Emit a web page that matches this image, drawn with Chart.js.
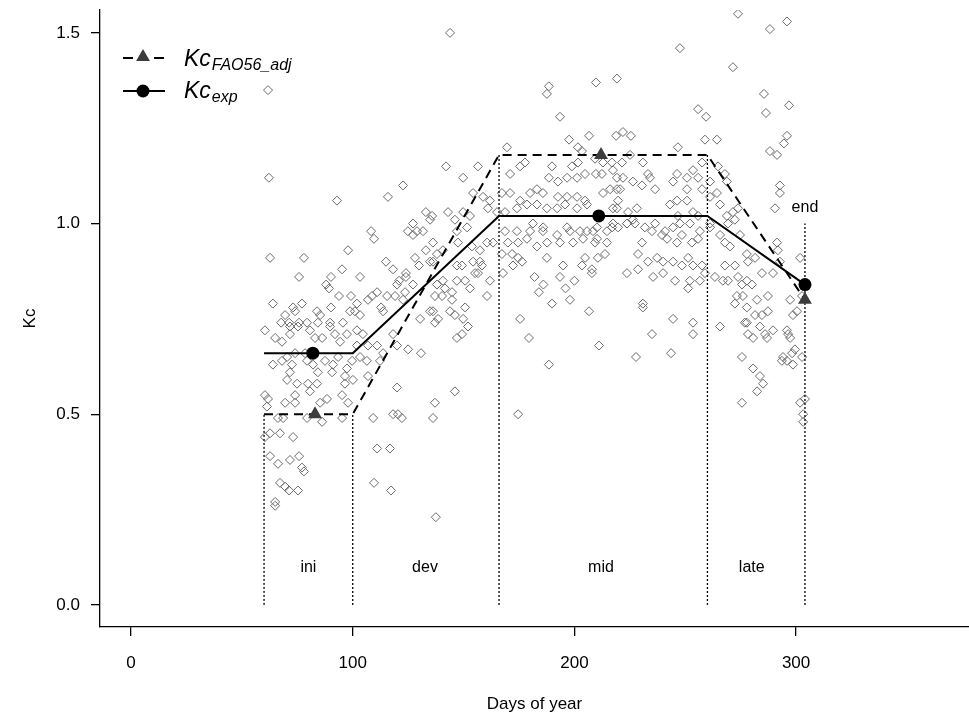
<!DOCTYPE html>
<html>
<head>
<meta charset="utf-8">
<script src="https://cdn.jsdelivr.net/npm/chart.js@4.4.1/dist/chart.umd.min.js"></script>
<style>
html, body { margin: 0; padding: 0; background: #fff; }
canvas { display: block; }
</style>
</head>
<body>
<canvas id="myChart" width="969" height="718"></canvas>
<script>
// crop coefficient curves (day of year, Kc)
const expDays = [60, 82, 100, 166, 211, 260, 304]
const expKc = [0.66, 0.66, 0.66, 1.02, 1.02, 1.02, 0.84]
const expMarkerDays = [82, 211, 304]

const faoDays = [60, 83, 100, 166, 212, 260, 304]
const faoKc = [0.50, 0.50, 0.50, 1.18, 1.18, 1.18, 0.80]
const faoMarkerDays = [83, 212, 304]

// stage limits (dotted verticals)
const stageBoundDays = [60, 100, 166, 260, 304]
const stageBoundTop = [0.50, 0.50, 1.18, 1.18, 1.00]

const stageNames = ['ini', 'dev', 'mid', 'late', 'end']
const stageLabelDays = [80, 132.6, 212, 280, 304]
const stageLabelKc = [0.097, 0.097, 0.097, 0.097, 1.042]

const xTicks = [0, 100, 200, 300]
const yTicks = [0, 0.5, 1.0, 1.5]

// observed daily Kc  [day, Kc]
const observedKc = [
[62.2,1.12],[92.9,1.06],[115.9,1.07],[122.7,1.10],[133,1.03],[134.9,1.01],[127.2,1.00],[108.3,0.98],[109.6,0.96],
[124.9,0.98],[127.2,0.97],[129,0.98],[131.7,0.98],[136.2,0.95],[97.9,0.93],[62.7,0.91],[78,0.91],[133,0.93],
[128.1,0.91],[95.2,0.88],[75.8,0.86],[90.2,0.86],[103.3,0.86],[115,0.90],[118.2,0.88],[124,0.87],[124,0.86],
[129.9,0.89],[134.9,0.90],[88,0.84],[89.3,0.83],[99.2,0.81],[93.8,0.81],[111,0.82],[108.7,0.81],[115.5,0.81],
[120,0.84],[120.9,0.85],[123.6,0.82],[127.2,0.84],[64,0.79],[77.1,0.79],[73.1,0.78],[74,0.77],[69.5,0.76],
[90.2,0.78],[83.9,0.77],[85.3,0.76],[101.9,0.79],[106.9,0.80],[98.8,0.77],[101,0.77],[103.3,0.76],[112.8,0.78],
[113.7,0.77],[119.1,0.81],[122.7,0.80],[67.7,0.74],[71.3,0.74],[75.8,0.74],[79.4,0.74],[84.3,0.74],[89.8,0.74],
[95.6,0.74],[130.4,0.75],[134.9,0.77],[137.1,0.74],
[60.4,0.72],[65,0.70],[68.1,0.69],[71.7,0.73],[75.3,0.73],[71.7,0.71],[80.7,0.72],[83,0.70],[86.2,0.70],
[89.8,0.73],[92,0.71],[94.3,0.69],[97.4,0.71],[101.9,0.72],[104.6,0.71],[101.9,0.68],[106.9,0.68],[111,0.68],
[70.4,0.65],[74,0.66],[78.5,0.66],[64,0.63],[68.1,0.64],[72.6,0.63],[71.7,0.61],[79.4,0.64],[82.1,0.63],
[84.3,0.61],[87.5,0.64],[91.1,0.63],[90.7,0.61],[93.4,0.65],[97.4,0.62],[99.7,0.64],[103.3,0.65],[106.4,0.64],
[112.3,0.64],[113.7,0.66],[70.4,0.59],[74.9,0.58],[79.8,0.58],[83.9,0.58],[96.5,0.60],[96.5,0.58],[100.1,0.59],
[106.9,0.60],[80.7,0.56],[60.4,0.55],[61.8,0.54],[69.5,0.53],[74,0.55],[74,0.53],[85.3,0.53],[88.4,0.54],
[95.2,0.55],[97.9,0.53],[61.3,0.52],[120,0.57],[137.1,0.53],[66.3,0.49],[68.6,0.49],[79.4,0.49],[86.2,0.48],
[95.2,0.49],[109.2,0.49],[118.2,0.50],[120.4,0.50],[122.2,0.49],[136.2,0.49],[60.4,0.44],[62.7,0.45],[67.2,0.45],
[73.1,0.44],[111,0.41],[116.8,0.41],[62.7,0.39],[66.3,0.37],[71.7,0.38],[75.8,0.39],[77.1,0.36],[78,0.35],
[67.2,0.32],[69.5,0.31],[71.3,0.30],[75.3,0.30],[109.6,0.32],[117.3,0.30],[65,0.27],[65,0.26],
[120,0.68],[125,0.67],[130.8,0.66],[118.2,0.71],[61.8,1.35],
[143.9,1.50],[188.5,1.36],[187.6,1.34],[209.7,1.37],[219.2,1.38],[193.5,1.28],[197.6,1.22],[206.6,1.23],
[218.8,1.23],[169.6,1.20],[201.6,1.20],[203.4,1.19],[142.1,1.15],[149.8,1.12],[156.5,1.15],[171,1.13],
[175.5,1.15],[177.7,1.16],[189.9,1.15],[198.9,1.15],[201.6,1.16],[209.3,1.17],[212.9,1.16],[216.9,1.16],
[188.5,1.12],[192.6,1.11],[196.7,1.12],[201.2,1.12],[204.8,1.13],[209.7,1.13],[212.4,1.13],[217.4,1.14],
[219.2,1.12],[154.3,1.08],[158.8,1.07],[161.9,1.06],[167.3,1.08],[171,1.08],[175.5,1.06],[180,1.08],
[183.1,1.09],[185.8,1.08],[192.6,1.07],[196.7,1.07],[201.2,1.07],[204.8,1.06],[212.9,1.08],[216.1,1.09],
[219.2,1.09],[143,1.03],[146.1,1.01],[149.8,1.03],[152.9,1.02],[161,1.04],[165.1,1.03],[168.7,1.03],
[174.1,1.04],[178.6,1.05],[183.1,1.05],[187.6,1.04],[192.2,1.04],[195.8,1.05],[201.2,1.04],[205.7,1.05],
[217.4,1.04],[219.7,1.06],[135.8,1.02],
[138,0.92],[140.7,0.93],[136.2,0.90],[147.5,0.95],[151.6,0.99],[147,0.98],[153.8,0.94],[157.4,0.93],
[160.6,0.95],[163.3,0.95],[147,0.89],[149.3,0.89],[154.3,0.90],[157.4,0.90],[158.3,0.89],[147,0.85],
[150.7,0.85],[155.2,0.87],[156.5,0.87],[152.9,0.83],[161.9,0.85],[160.6,0.81],[138,0.84],[140.7,0.85],
[141.6,0.83],[144.8,0.82],[137.1,0.81],[140.3,0.81],[144.8,0.80],[136.2,0.77],[138.5,0.75],[143.9,0.77],
[146.1,0.76],[149.8,0.75],[150.7,0.78],[152,0.73],[147,0.70],[149.3,0.71],[146.1,0.56],[137.5,0.23],
[167.8,0.87],[172.3,0.89],[174.6,0.91],[176.4,0.90],[171.9,0.92],[167.3,0.92],[170,0.95],[174.6,0.95],
[178.6,0.96],[183.1,0.94],[187.6,0.91],[168.7,0.98],[174.1,0.98],[180,0.98],[185.8,0.98],[192.2,0.97],
[198,0.98],[202.5,0.98],[208.4,0.98],[214.7,0.98],[194.9,0.89],[193.5,0.86],[203.4,0.89],[204.8,0.91],
[207.9,0.88],[207.9,0.87],[210.2,0.96],[214.7,0.95],[213.8,0.92],[210.6,0.91],[189.9,0.79],[175.5,0.75],
[179.5,0.70],[188.5,0.63],[206.6,0.77],[211.1,0.68],[174.6,0.50],
[181.3,1.00],[185.9,0.99],[196.7,0.99],[205.7,0.98],[210.2,0.99],[187.7,0.95],[193.5,0.95],[199.4,0.95],
[203.9,0.96],[209.3,0.95],[182,0.86],[186,0.84],[196,0.83],[200,0.85],[184,0.82],[198,0.80],
[273.8,1.55],[288.2,1.51],[295.9,1.53],[247.6,1.46],[271.5,1.41],[285.5,1.34],[296.8,1.31],[286.4,1.29],
[255.8,1.30],[259.4,1.28],[258.9,1.22],[264.3,1.22],[221.9,1.24],[225.5,1.23],[295.9,1.23],[294.5,1.21],
[291.4,1.18],[288.2,1.19],[246.7,1.20],[230.9,1.16],[221.5,1.16],[225.1,1.18],[221.9,1.12],[226.4,1.11],
[220.6,1.09],[230.5,1.10],[233.2,1.13],[236.4,1.09],[234.1,1.12],[244.5,1.11],[246.3,1.13],[250.8,1.12],
[253.5,1.14],[255.8,1.12],[250.8,1.09],[257.6,1.16],[264.8,1.15],[267.9,1.13],[268.8,1.11],[261.2,1.11],
[264.3,1.08],[257.6,1.09],[261.2,1.07],[265.7,1.05],[268.8,1.02],[271.5,1.03],[273.8,1.04],[292.7,1.10],
[292.7,1.08],[290.5,1.04],[219.2,1.04],[224.2,1.03],[228.2,1.04],[217.4,1.00],[223.7,1.00],[226.4,1.01],
[243.1,1.05],[246.3,1.06],[250.8,1.06],[253.5,1.03],[255.8,1.02],[246.7,1.02],
[217,0.99],[219.7,0.99],[223.7,1.00],[227.3,1.00],[231.8,0.99],[236.4,1.00],[240.9,0.98],[244.5,0.99],
[247.6,1.00],[252.1,1.00],[256.6,0.98],[261.2,0.99],[230.5,0.95],[235,0.98],[239.5,0.97],[241.8,0.96],
[246.3,0.95],[248.5,0.97],[253,0.95],[255.8,0.96],[228.7,0.92],[233.2,0.90],[237.3,0.91],[240,0.90],
[244.5,0.90],[248.5,0.89],[251.3,0.91],[253.5,0.89],[257.6,0.89],[223.7,0.87],[228.7,0.88],[235.5,0.86],
[240,0.87],[245.4,0.85],[252.1,0.85],[256.6,0.85],[258.9,0.87],[251.3,0.83],[230.9,0.79],[230.9,0.78],
[244.5,0.75],[235,0.71],[253.5,0.71],[227.8,0.65],[243.6,0.66],[253.5,0.74],
[261.2,1.00],[265.7,0.97],[269.3,1.00],[272.4,1.01],[267.9,0.95],[270.2,0.94],[274.7,0.97],[277.8,0.92],
[278.3,0.90],[281.5,0.91],[284.6,0.87],[289.6,0.87],[291.4,0.95],[291.8,0.93],[292.7,0.90],[301.8,0.91],
[263.4,0.86],[267,0.85],[269.3,0.85],[273.8,0.86],[275.6,0.84],[280.1,0.84],[277.8,0.85],[267.9,0.89],
[272.4,0.89],[265.7,0.73],[272.4,0.79],[273.3,0.81],[276,0.81],[277.8,0.78],[282.4,0.80],[287.3,0.81],
[287.3,0.77],[277.8,0.74],[281.5,0.76],[284.6,0.76],[276.9,0.74],[283.7,0.73],[286,0.71],[289.6,0.72],
[278.3,0.71],[280.6,0.70],[286.9,0.70],[297.3,0.80],[298.6,0.76],[300.4,0.77],[302.7,0.81],[295.9,0.72],
[296.4,0.71],[297.3,0.70],[299.5,0.67],[298.2,0.66],[294.1,0.65],[293.6,0.64],[295.9,0.64],[298.6,0.63],
[302.7,0.65],[275.6,0.65],[280.6,0.62],[283.7,0.60],[285.1,0.58],[282.4,0.56],[275.6,0.53],[304,0.54],
[301.8,0.53],[303.2,0.50],[303.2,0.48]
]

const FONT = '"Liberation Sans", Arial, sans-serif'

function pts(xs, ys) {
    return xs.map((d, i) => ({x: d, y: ys[i]}))
}

const datasets = []
datasets.push({
    label: 'Kc exp',
    data: pts(expDays, expKc),
    showLine: true,
    borderColor: '#000',
    borderWidth: 2,
    pointStyle: 'circle',
    pointRadius: ctx => expMarkerDays.includes(ctx.raw.x) ? 6.5 : 0,
    pointBackgroundColor: '#000',
    pointBorderColor: '#000',
    pointBorderWidth: 0
})
datasets.push({
    label: 'Kc FAO56 adj',
    data: pts(faoDays, faoKc),
    showLine: true,
    borderColor: '#000',
    borderWidth: 2,
    borderDash: [9, 6],
    pointStyle: 'triangle',
    pointRadius: ctx => faoMarkerDays.includes(ctx.raw.x) ? 8 : 0,
    pointBackgroundColor: '#3c3c3c',
    pointBorderColor: '#3c3c3c',
    pointBorderWidth: 0
})
stageBoundDays.forEach((d, i) => {
    datasets.push({
        label: 'stage' + i,
        data: pts([d, d], [0, stageBoundTop[i]]),
        showLine: true,
        borderColor: '#000',
        borderWidth: 1.3,
        borderDash: [2, 2],
        pointRadius: 0
    })
})
datasets.push({
    label: 'observed',
    data: observedKc.map(p => ({x: p[0], y: p[1]})),
    showLine: false,
    pointStyle: 'rectRot',
    pointRadius: 4.5,
    pointBorderWidth: 1,
    pointBorderColor: '#6a6a6a',
    pointBackgroundColor: 'rgba(255,255,255,0)'
})

// stage names + legend with subscripts
const overlay = {
    id: 'overlay',
    afterDatasetsDraw(chart) {
        const {ctx, scales: {x, y}} = chart
        ctx.save()
        ctx.fillStyle = '#000'
        ctx.font = '16px ' + FONT
        ctx.textAlign = 'center'
        ctx.textBaseline = 'middle'
        stageNames.forEach((n, i) => {
            ctx.fillText(n, x.getPixelForValue(stageLabelDays[i]), y.getPixelForValue(stageLabelKc[i]))
        })

        // legend
        ctx.strokeStyle = '#000'
        ctx.lineWidth = 2
        ctx.beginPath()
        ctx.moveTo(123, 58); ctx.lineTo(133, 58)
        ctx.moveTo(154, 58); ctx.lineTo(164, 58)
        ctx.moveTo(123, 91); ctx.lineTo(165, 91)
        ctx.stroke()
        ctx.fillStyle = '#3c3c3c'
        Chart.helpers.drawPoint(ctx, {pointStyle: 'triangle', radius: 8, borderWidth: 0}, 143, 57)
        ctx.fillStyle = '#000'
        Chart.helpers.drawPoint(ctx, {pointStyle: 'circle', radius: 6.5, borderWidth: 0}, 143, 91)

        ctx.textAlign = 'left'
        ctx.textBaseline = 'alphabetic'
        const rows = [['FAO56_adj', 66], ['exp', 98]]
        rows.forEach(r => {
            ctx.font = 'italic 23px ' + FONT
            ctx.fillText('Kc', 184, r[1])
            const w = ctx.measureText('Kc').width
            ctx.font = 'italic 16px ' + FONT
            ctx.fillText(r[0], 184 + w + 1, r[1] + 4)
        })
        ctx.restore()
    }
}

function noPad(s) {
    s.paddingTop = 0
    s.paddingBottom = 0
    s.paddingLeft = 0
    s.paddingRight = 0
}

const ctx = document.getElementById('myChart').getContext('2d')
const myChart = new Chart(ctx, {
    type: 'scatter',
    data: {datasets: datasets},
    options: {
        responsive: false,
        animation: false,
        devicePixelRatio: 1,
        layout: {autoPadding: false, padding: {top: 10, right: 0, left: 0, bottom: 0}},
        plugins: {legend: {display: false}, tooltip: {enabled: false}},
        scales: {
            x: {
                type: 'linear',
                min: -14,
                max: 378,
                afterBuildTicks: s => { s.ticks = xTicks.map(v => ({value: v})) },
                afterFit: s => { s.height = 91; noPad(s) },
                grid: {drawOnChartArea: false, drawTicks: true, tickLength: 9, color: '#000', lineWidth: 1.3},
                border: {display: true, color: '#000', width: 1.3},
                ticks: {color: '#000', font: {family: FONT, size: 17}, padding: 17, maxRotation: 0,
                    callback: v => String(v)},
                title: {display: true, text: 'Days of year', color: '#000',
                    font: {family: FONT, size: 17}, padding: {top: 0, bottom: 3}}
            },
            y: {
                type: 'linear',
                min: -0.058,
                max: 1.56,
                afterBuildTicks: s => { s.ticks = yTicks.map(v => ({value: v})) },
                afterFit: s => { s.width = 100; noPad(s) },
                grid: {drawOnChartArea: false, drawTicks: true, tickLength: 9, color: '#000', lineWidth: 1.3},
                border: {display: true, color: '#000', width: 1.3},
                ticks: {color: '#000', font: {family: FONT, size: 17}, padding: 11,
                    callback: v => v.toFixed(1)},
                title: {display: true, text: 'Kc', color: '#000',
                    font: {family: FONT, size: 17}, padding: {top: 20, bottom: 0}}
            }
        }
    },
    plugins: [overlay]
})
</script>
</body>
</html>
